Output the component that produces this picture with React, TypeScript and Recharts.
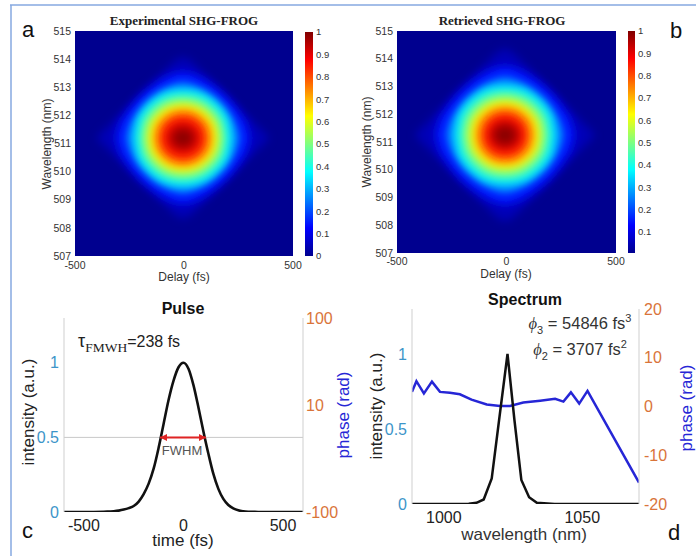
import React from 'react'
import {
  ComposedChart,
  Area,
  Line,
  Scatter,
  XAxis,
  YAxis,
  CartesianGrid,
  ReferenceLine,
} from 'recharts'

const SANS = '"Liberation Sans", Arial, Helvetica, sans-serif'
const SERIF = '"Liberation Serif", "Times New Roman", serif'

const TEAL = '#3d95c9'
const ORANGE = '#d9743a'
const BLUE = '#2626d6'

// FROG maps: contour levels and half extents (delay in fs, wavelength in nm)
const frogLevels = [0.03, 0.1, 0.2, 0.3, 0.4, 0.5, 0.6, 0.7, 0.8, 0.9, 0.96]
const expDelayRadius = [395, 310, 262, 230, 202, 176, 152, 128, 104, 72, 42]
const expWlRadius = [3.05, 2.35, 1.98, 1.76, 1.54, 1.33, 1.14, 0.97, 0.78, 0.52, 0.27]
const expShape = [2, 1, 1, 0, 0, 0, 0, 0, 0, 0, 0]
const retDelayRadius = [410, 320, 270, 236, 206, 178, 152, 128, 102, 72, 45]
const retWlRadius = [3.3, 2.5, 2.1, 1.83, 1.6, 1.37, 1.17, 0.99, 0.79, 0.53, 0.3]
const retShape = [2, 1, 1, 0, 0, 0, 0, 0, 0, 0, 0]

// outline of one contour: position across the contour and relative half height
const outlineT = [-1, -0.95, -0.85, -0.7, -0.5, -0.25, 0, 0.25, 0.5, 0.7, 0.85, 0.95, 1]
const ellipseH = [0, 0.31, 0.53, 0.71, 0.87, 0.97, 1, 0.97, 0.87, 0.71, 0.53, 0.31, 0]
const roundedH = [0, 0.18, 0.36, 0.56, 0.75, 0.92, 1, 0.92, 0.75, 0.56, 0.36, 0.18, 0]
const diamondH = [0, 0.06, 0.16, 0.31, 0.51, 0.75, 0.94, 0.75, 0.51, 0.31, 0.16, 0.06, 0]
const outlineProfiles = [ellipseH, roundedH, diamondH]
// colormap value used inside each contour band
const bandValue = [0.045, 0.15, 0.25, 0.35, 0.45, 0.55, 0.65, 0.75, 0.85, 0.93, 0.99]

const delayTicks = [-500, 0, 500]
const wlTicks = [507, 508, 509, 510, 511, 512, 513, 514, 515]
const cbTicksA = [0, 0.1, 0.2, 0.3, 0.4, 0.5, 0.6, 0.7, 0.8, 0.9, 1]
const cbTicksB = [0.1, 0.2, 0.3, 0.4, 0.5, 0.6, 0.7, 0.8, 0.9, 1]

const jetStops = [0, 0.125, 0.375, 0.625, 0.875, 1]
const jetColors = ['#00008f', '#0000ff', '#00ffff', '#ffff00', '#ff0000', '#800000']

// Pulse (c)
const pulseTime = [
  -600, -550, -500, -450, -400, -375, -350, -325, -300, -275, -250, -225, -200, -175, -150, -125,
  -100, -75, -50, -25, 0, 25, 50, 75, 100, 125, 150, 175, 200, 225, 250, 275, 300, 325, 350, 375,
  400, 450, 500, 550, 600,
]
const pulseIntensity = [
  0, 0, 0, 0, 0.001, 0.003, 0.005, 0.009, 0.016, 0.026, 0.04, 0.07, 0.12, 0.19, 0.29, 0.43,
  0.59, 0.75, 0.88, 0.97, 1.0, 0.96, 0.85, 0.7, 0.54, 0.39, 0.255, 0.155, 0.088, 0.047, 0.024,
  0.011, 0.005, 0.002, 0.001, 0, 0, 0, 0, 0, 0,
]
const fwhmEnds = [-118, 113]
const pulseTimeTicks = [-500, 0, 500]
const intensityTicks = [0, 0.5, 1]
const pulsePhaseTicks = [-100, 10, 100]

// Spectrum (d)
const specWl = [988.5, 1005, 1009, 1011.8, 1014.4, 1017.3, 1020.1, 1023, 1025.5, 1028, 1030.8, 1033.6, 1040, 1070.5]
const specIntensity = [0, 0, 0.001, 0.008, 0.03, 0.17, 0.58, 1.0, 0.56, 0.16, 0.045, 0.008, 0, 0]
const phaseWl = [
  988.5, 990.1, 992.8, 995.7, 998.6, 1002.2, 1005.8, 1010, 1015.5, 1020.3, 1023.9, 1028.7,
  1034.8, 1040.2, 1043.2, 1045.9, 1048.9, 1051.9, 1070.5,
]
const phaseRad = [3.0, 5.2, 2.7, 5.1, 3.0, 2.8, 2.5, 1.4, 0.4, 0.1, 0.1, 0.8, 1.2, 1.6, 1.0, 2.9, 0.6, 3.2, -15.6]
const specWlTicks = [1000, 1050]
const specPhaseTicks = [-20, -10, 0, 10, 20]

function hexRgb(hex: string) {
  return [1, 3, 5].map((i) => parseInt(hex.slice(i, i + 2), 16))
}

function jet(v: number) {
  let i = 0
  while (i < jetStops.length - 2 && v > jetStops[i + 1]) i++
  const f = Math.max(0, Math.min(1, (v - jetStops[i]) / (jetStops[i + 1] - jetStops[i])))
  const a = hexRgb(jetColors[i])
  const b = hexRgb(jetColors[i + 1])
  const c = a.map((x, k) => Math.round(x + (b[k] - x) * f))
  return `rgb(${c[0]},${c[1]},${c[2]})`
}

function buildContours(delayRadius: number[], wlRadius: number[], shapes: number[], cDelay: number, cWl: number) {
  return frogLevels.map((lvl, i) => {
    const prof = outlineProfiles[shapes[i]]
    return {
      fill: jet(bandValue[i]),
      data: outlineT.map((t, k) => ({
        d: cDelay + t * delayRadius[i],
        lo: cWl - prof[k] * wlRadius[i],
        hi: cWl + prof[k] * wlRadius[i],
      })),
    }
  })
}

const expContours = buildContours(expDelayRadius, expWlRadius, expShape, -5, 511.2)
const retContours = buildContours(retDelayRadius, retWlRadius, retShape, -7, 511.25)

const pulseData = pulseTime.map((t, i) => ({ t, v: pulseIntensity[i] }))
const arrowData = fwhmEnds.map((t, i) => ({ t, v: 0.5, dir: i === 0 ? -1 : 1 }))
const specData = specWl.map((wl, i) => ({ wl, v: specIntensity[i] }))
const phaseData = phaseWl.map((wl, i) => ({ wl, p: phaseRad[i] }))

const smallTick = { fontSize: 10.5, fill: '#333', fontFamily: SANS }
const cbTick = { fontSize: 9.5, fill: '#333', fontFamily: SANS }
const fmtCb = (v: number) => (v === 0 ? '0' : v === 1 ? '1' : v.toFixed(1))

function FrogMap({ contours, width, margin, tickMargin }: any) {
  return (
    <ComposedChart width={width} height={290} margin={margin}>
      <CartesianGrid horizontal={false} vertical={false} fill="#00008f" fillOpacity={1} />
      <XAxis
        type="number"
        dataKey="d"
        domain={[-500, 500]}
        ticks={delayTicks}
        allowDataOverflow
        height={30}
        tickSize={0}
        tickMargin={tickMargin}
        axisLine={false}
        tick={smallTick}
        interval={0}
      />
      <YAxis
        type="number"
        domain={[507, 515]}
        ticks={wlTicks}
        allowDataOverflow
        width={45}
        tickSize={0}
        tickMargin={4}
        axisLine={false}
        tick={smallTick}
        interval={0}
      />
      {contours.map((c: any, i: number) => (
        <Area
          key={i}
          data={c.data}
          dataKey={(p: any) => [p.lo, p.hi]}
          type="monotone"
          fill={c.fill}
          fillOpacity={1}
          stroke="none"
          isAnimationActive={false}
          activeDot={false}
        />
      ))}
    </ComposedChart>
  )
}

function ColorBar({ ticks, domain, margin, axisWidth }: any) {
  const barData = [
    { x: 0, lo: domain[0], hi: domain[1] },
    { x: 1, lo: domain[0], hi: domain[1] },
  ]
  return (
    <ComposedChart width={50} height={290} margin={margin} data={barData}>
      <XAxis type="number" dataKey="x" domain={[0, 1]} hide />
      <YAxis
        type="number"
        orientation="right"
        domain={domain}
        ticks={ticks}
        allowDataOverflow
        width={axisWidth}
        tickSize={0}
        tickMargin={3}
        axisLine={false}
        tick={cbTick}
        tickFormatter={fmtCb}
        interval={0}
      />
      <Area
        dataKey={(p: any) => [p.lo, p.hi]}
        type="linear"
        fill="url(#jetV)"
        fillOpacity={1}
        stroke="none"
        isAnimationActive={false}
        activeDot={false}
      />
    </ComposedChart>
  )
}

const ArrowHead = (props: any) => {
  const { cx, cy, payload } = props
  const d = payload.dir
  return <polygon points={`${cx},${cy} ${cx - d * 7},${cy - 3.5} ${cx - d * 7},${cy + 3.5}`} fill="#e02424" />
}

const bigTick = (fill: string) => ({ fontSize: 16, fill, fontFamily: SANS })

export default function App() {
  return (
    <div style={{ position: 'relative', width: 696, height: 556, background: '#fff', overflow: 'hidden', fontFamily: SANS }}>
      <style>{'body{margin:0} .frog .recharts-area{filter:url(#frogBlur)}'}</style>
      <svg width={0} height={0} style={{ position: 'absolute' }}>
        <defs>
          <filter id="frogBlur" x="-50%" y="-50%" width="200%" height="200%">
            <feGaussianBlur stdDeviation={4} />
          </filter>
          <linearGradient id="jetV" x1="0" y1="1" x2="0" y2="0">
            {jetStops.map((s, i) => (
              <stop key={i} offset={s} stopColor={jetColors[i]} />
            ))}
          </linearGradient>
        </defs>
      </svg>

      <div className="frog" style={{ position: 'absolute', left: 0, top: 0 }}>
        <FrogMap contours={expContours} width={312} margin={{ top: 31, right: 19, bottom: 4, left: 30 }} tickMargin={6} />
      </div>
      <div style={{ position: 'absolute', left: 290, top: 0 }}>
        <ColorBar ticks={cbTicksA} domain={[0, 1]} margin={{ top: 32, right: 0, bottom: 34, left: 15 }} axisWidth={27} />
      </div>
      <div className="frog" style={{ position: 'absolute', left: 350, top: 0 }}>
        <FrogMap contours={retContours} width={275} margin={{ top: 31, right: 9, bottom: 7, left: 2 }} tickMargin={5} />
      </div>
      <div style={{ position: 'absolute', left: 613, top: 0 }}>
        <ColorBar ticks={cbTicksB} domain={[0.005, 1]} margin={{ top: 31, right: 0, bottom: 37, left: 15 }} axisWidth={28} />
      </div>

      {/* c: pulse */}
      <div style={{ position: 'absolute', left: 0, top: 290 }}>
        <ComposedChart width={360} height={266} margin={{ top: 28, right: 12, bottom: 14, left: 24 }}>
          <XAxis
            type="number"
            dataKey="t"
            domain={[-600, 600]}
            ticks={pulseTimeTicks}
            allowDataOverflow
            height={30}
            tickSize={0}
            tickMargin={8}
            axisLine={false}
            tick={bigTick('#222')}
            interval={0}
          />
          <XAxis xAxisId="top" type="number" orientation="top" domain={[-600, 600]} height={0} tick={false} tickLine={false} axisLine={{ stroke: '#cfcfcf' }} />
          <YAxis
            yAxisId="int"
            type="number"
            domain={[0, 1.3]}
            ticks={intensityTicks}
            allowDataOverflow
            width={40}
            tickSize={0}
            tickMargin={5}
            axisLine={{ stroke: '#cfcfcf' }}
            tick={bigTick(TEAL)}
            interval={0}
          />
          <YAxis
            yAxisId="ph"
            type="number"
            orientation="right"
            domain={[-100, 100]}
            ticks={pulsePhaseTicks}
            allowDataOverflow
            width={45}
            tickSize={0}
            tickMargin={3}
            axisLine={{ stroke: '#cfcfcf' }}
            tick={bigTick(ORANGE)}
            interval={0}
          />
          <ReferenceLine yAxisId="int" y={0.5} stroke="#c8c8c8" strokeWidth={1} />
          <Line
            yAxisId="int"
            data={pulseData}
            dataKey="v"
            type="monotone"
            stroke="#111"
            strokeWidth={2.6}
            dot={false}
            activeDot={false}
            isAnimationActive={false}
          />
          <ReferenceLine
            yAxisId="int"
            segment={[
              { x: fwhmEnds[0], y: 0.5 },
              { x: fwhmEnds[1], y: 0.5 },
            ]}
            stroke="#e02424"
            strokeWidth={2}
          />
          <Scatter yAxisId="int" data={arrowData} dataKey="v" shape={ArrowHead} isAnimationActive={false} />
        </ComposedChart>
      </div>

      {/* d: spectrum */}
      <div style={{ position: 'absolute', left: 350, top: 290 }}>
        <ComposedChart width={346} height={266} margin={{ top: 19, right: 12, bottom: 22, left: 22 }}>
          <XAxis
            type="number"
            dataKey="wl"
            domain={[988.5, 1070.5]}
            ticks={specWlTicks}
            allowDataOverflow
            height={30}
            tickSize={0}
            tickMargin={8}
            axisLine={false}
            tick={bigTick('#222')}
            interval={0}
          />
          <XAxis xAxisId="top" type="number" orientation="top" domain={[988.5, 1070.5]} height={0} tick={false} tickLine={false} axisLine={{ stroke: '#cfcfcf' }} />
          <YAxis
            yAxisId="int"
            type="number"
            domain={[0, 1.3]}
            ticks={intensityTicks}
            allowDataOverflow
            width={40}
            tickSize={0}
            tickMargin={5}
            axisLine={{ stroke: '#cfcfcf' }}
            tick={bigTick(TEAL)}
            interval={0}
          />
          <YAxis
            yAxisId="ph"
            type="number"
            orientation="right"
            domain={[-20, 20]}
            ticks={specPhaseTicks}
            allowDataOverflow
            width={45}
            tickSize={0}
            tickMargin={5}
            axisLine={{ stroke: '#cfcfcf' }}
            tick={bigTick(ORANGE)}
            interval={0}
          />
          <Line
            yAxisId="ph"
            data={phaseData}
            dataKey="p"
            type="linear"
            stroke={BLUE}
            strokeWidth={2.5}
            dot={false}
            activeDot={false}
            isAnimationActive={false}
          />
          <Line
            yAxisId="int"
            data={specData}
            dataKey="v"
            type="linear"
            stroke="#111"
            strokeWidth={2.5}
            dot={false}
            activeDot={false}
            isAnimationActive={false}
          />
        </ComposedChart>
      </div>

      {/* text and frame */}
      <svg width={696} height={556} style={{ position: 'absolute', left: 0, top: 0, pointerEvents: 'none' }} fontFamily={SANS}>
        <line x1={10} y1={5} x2={696} y2={5} stroke="#86a8e0" strokeWidth={1.5} />
        <line x1={11} y1={5} x2={11} y2={556} stroke="#86a8e0" strokeWidth={1.5} />

        <text x={22} y={37} fontSize={22} fill="#111">a</text>
        <text x={670} y={38} fontSize={22} fill="#111">b</text>
        <text x={22} y={538} fontSize={22} fill="#111">c</text>
        <text x={668} y={540} fontSize={22} fill="#111">d</text>

        <text x={184} y={25} fontFamily={SERIF} fontWeight="bold" fontSize={13} textAnchor="middle" fill="#222">
          Experimental SHG-FROG
        </text>
        <text x={502} y={25} fontFamily={SERIF} fontWeight="bold" fontSize={13} textAnchor="middle" fill="#222">
          Retrieved SHG-FROG
        </text>
        <text transform="translate(51,144) rotate(-90)" fontSize={12} textAnchor="middle" fill="#333">Wavelength (nm)</text>
        <text transform="translate(371,142) rotate(-90)" fontSize={12} textAnchor="middle" fill="#333">Wavelength (nm)</text>
        <text x={184} y={281} fontSize={12} textAnchor="middle" fill="#333">Delay (fs)</text>
        <text x={506} y={278} fontSize={12} textAnchor="middle" fill="#333">Delay (fs)</text>

        <text x={183} y={314} fontSize={16} fontWeight="bold" textAnchor="middle" fill="#111">Pulse</text>
        <text x={525} y={305} fontSize={16} fontWeight="bold" textAnchor="middle" fill="#111">Spectrum</text>

        <text transform="translate(34,412) rotate(-90)" fontSize={17} textAnchor="middle" fill="#222">intensity (a.u.)</text>
        <text transform="translate(349,415) rotate(-90)" fontSize={17} textAnchor="middle" fill={BLUE}>phase (rad)</text>
        <text x={183} y={546} fontSize={17} textAnchor="middle" fill="#222">time (fs)</text>
        <text transform="translate(382,406) rotate(-90)" fontSize={17} textAnchor="middle" fill="#222">intensity (a.u.)</text>
        <text transform="translate(692,408) rotate(-90)" fontSize={17} textAnchor="middle" fill={BLUE}>phase (rad)</text>
        <text x={524} y={540} fontSize={17} textAnchor="middle" fill="#333">wavelength (nm)</text>

        <text x={78} y={347} fontSize={16} fill="#222">
          <tspan fontSize={18}>τ</tspan>
          <tspan fontFamily={SERIF} fontSize={13.5} dy={5}>FMWH</tspan>
          <tspan dy={-5}>=238 fs</tspan>
        </text>
        <text x={182} y={455} fontSize={13} textAnchor="middle" fill="#555">FWHM</text>

        <text x={580} y={329} fontSize={16.5} textAnchor="middle" fill="#333">
          <tspan fontFamily={SERIF} fontStyle="italic">ϕ</tspan>
          <tspan fontSize={11} dy={5}>3</tspan>
          <tspan dy={-5}> = 54846 fs</tspan>
          <tspan fontSize={11} dy={-7}>3</tspan>
        </text>
        <text x={580} y={355} fontSize={16.5} textAnchor="middle" fill="#333">
          <tspan fontFamily={SERIF} fontStyle="italic">ϕ</tspan>
          <tspan fontSize={11} dy={5}>2</tspan>
          <tspan dy={-5}> = 3707 fs</tspan>
          <tspan fontSize={11} dy={-7}>2</tspan>
        </text>
      </svg>
    </div>
  )
}
